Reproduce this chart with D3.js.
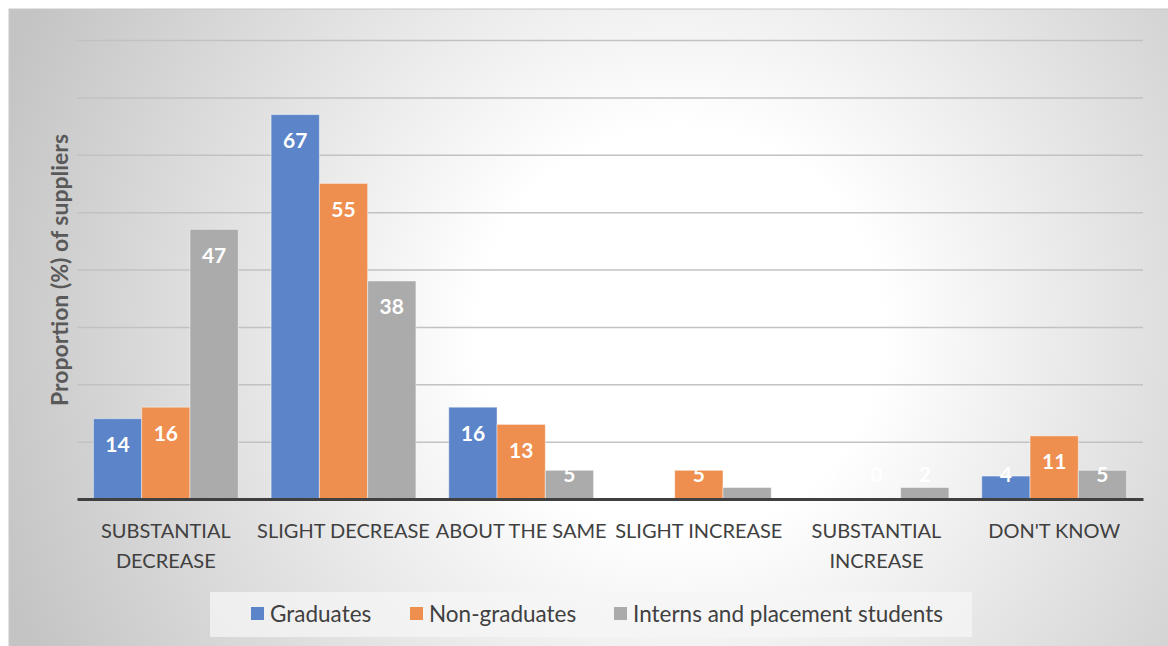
<!DOCTYPE html>
<html><head><meta charset="utf-8">
<script src="https://cdn.jsdelivr.net/npm/d3@7"></script>
<style>html,body{margin:0;padding:0;background:#fff;}svg{display:block;}</style>
</head><body>
<svg id="chart" width="1168" height="646"></svg>
<script>
const categories = ["SUBSTANTIAL DECREASE","SLIGHT DECREASE","ABOUT THE SAME","SLIGHT INCREASE","SUBSTANTIAL INCREASE","DON'T KNOW"];
const seriesNames = ["Graduates","Non-graduates","Interns and placement students"];
const graduates = [14, 67, 16, 0, 0, 4];
const nonGraduates = [16, 55, 13, 5, 0, 11];
const interns = [47, 38, 5, 2, 2, 5];
// data labels shown in the chart (null = no label)
const graduatesLabels = ["14","67","16",null,"0","4"];
const nonGraduatesLabels = ["16","55","13","5","0","11"];
const internsLabels = ["47","38","5",null,"2","5"];
const yTicks = [0,10,20,30,40,50,60,70,80];
const yTitle = "Proportion (%) of suppliers";

const colors = ["#5b84c9","#ee8e4f","#ababab"];
const values = [graduates, nonGraduates, interns];
const labels = [graduatesLabels, nonGraduatesLabels, internsLabels];
const FONT = "Lato, 'Open Sans', sans-serif";

const svg = d3.select("#chart");
const defs = svg.append("defs");
const grad = defs.append("radialGradient").attr("id","bg")
  .attr("gradientUnits","userSpaceOnUse").attr("cx",680).attr("cy",330).attr("r",720);
grad.append("stop").attr("offset","0").attr("stop-color","#ffffff");
grad.append("stop").attr("offset","0.28").attr("stop-color","#ffffff");
grad.append("stop").attr("offset","1").attr("stop-color","#c4c4c4");

svg.append("rect").attr("x",9).attr("y",9).attr("width",1168).attr("height",646)
  .attr("fill","url(#bg)").attr("stroke","#c8c8c8").attr("stroke-width",1);

const x0 = d3.scaleBand().domain(categories).range([77,1143]).paddingInner(0.185).paddingOuter(0.0925);
const x1 = d3.scaleBand().domain(seriesNames).range([0, x0.bandwidth()]);
const y = d3.scaleLinear().domain([0,80]).range([499,40]);

// gridlines
const yAxis = d3.axisLeft(y).tickValues(yTicks).tickSize(-(1143-77)).tickFormat("");
const gAxis = svg.append("g").attr("transform","translate(77,0)").call(yAxis);
gAxis.select(".domain").remove();
gAxis.selectAll(".tick line").attr("stroke","#c2c2c2").attr("stroke-width",1.5);

// bars
const groups = svg.append("g").selectAll("g").data(categories).join("g")
  .attr("transform", c => `translate(${x0(c)},0)`);
seriesNames.forEach((s, si) => {
  groups.append("rect")
    .attr("x", x1(s)).attr("width", x1.bandwidth())
    .attr("y", (c,i) => y(values[si][i]))
    .attr("height", (c,i) => y(0) - y(values[si][i]))
    .attr("fill", colors[si])
    .attr("stroke","rgba(255,255,255,0.45)").attr("stroke-width",1);
});
seriesNames.forEach((s, si) => {
  groups.append("text")
    .attr("x", x1(s) + x1.bandwidth()/2)
    .attr("y", (c,i) => Math.min(y(values[si][i]) + 26, 475))
    .attr("dy","0.35em")
    .attr("text-anchor","middle")
    .attr("font-family",FONT).attr("font-weight","bold").attr("font-size",21)
    .attr("fill","#ffffff")
    .text((c,i) => labels[si][i] === null ? "" : labels[si][i]);
});

// baseline
const xAxis = d3.axisBottom(x0).tickSize(0).tickFormat("");
const gx = svg.append("g").attr("transform",`translate(0,${y(0)})`).call(xAxis);
gx.select(".domain").attr("stroke","#404040").attr("stroke-width",3);

// category labels (wrapped)
const catG = svg.append("g");
categories.forEach(c => {
  const t = catG.append("text").attr("text-anchor","middle")
    .attr("font-family",FONT).attr("font-size",20).attr("fill","#404040");
  const words = c.split(" ");
  let lines = [], cur = [];
  words.forEach(w => {
    cur.push(w);
    t.text(cur.join(" "));
    if (t.node().getComputedTextLength() > x0.step() - 2 && cur.length > 1) {
      cur.pop(); lines.push(cur.join(" ")); cur = [w];
    }
  });
  lines.push(cur.join(" "));
  t.text(null);
  lines.forEach((l, li) => {
    t.append("tspan").attr("x", x0(c) + x0.bandwidth()/2).attr("y", 531 + li*30)
      .attr("dy","0.35em").text(l);
  });
});

// y title
svg.append("text").attr("transform","translate(60,270) rotate(-90)")
  .attr("text-anchor","middle").attr("dy","0.35em")
  .attr("font-family",FONT).attr("font-weight","bold").attr("font-size",23)
  .attr("fill","#595959").text(yTitle);

// legend
svg.append("rect").attr("x",210).attr("y",592).attr("width",762).attr("height",45)
  .attr("fill","rgba(245,245,245,0.75)");
const legX = [251, 410, 614];
seriesNames.forEach((s, si) => {
  svg.append("rect").attr("x",legX[si]).attr("y",607).attr("width",13).attr("height",13)
    .attr("fill",colors[si]);
  svg.append("text").attr("x",legX[si]+19).attr("y",614).attr("dy","0.35em")
    .attr("font-family",FONT).attr("font-size",22.5).attr("fill","#404040").text(s);
});
</script>
</body></html>
